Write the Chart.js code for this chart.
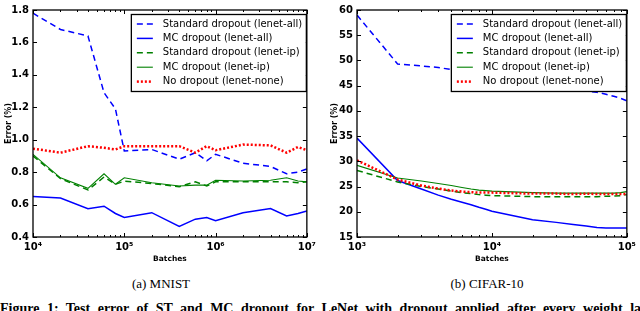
<!DOCTYPE html>
<html><head><meta charset="utf-8">
<script src="https://cdn.jsdelivr.net/npm/chart.js@4.4.0/dist/chart.umd.min.js"></script>
<style>
html,body{margin:0;padding:0;background:#fff;width:640px;height:311px;overflow:hidden;}
canvas{position:absolute;top:0;}
#c1{left:0;}
#c2{left:320px;}
.cap{position:absolute;top:276px;font-family:"Liberation Serif","DejaVu Serif",serif;font-size:13px;line-height:15px;color:#000;white-space:nowrap;transform:translateX(-50%);}
#fig{position:absolute;left:0;top:301px;font-family:"Liberation Serif","DejaVu Serif",serif;font-size:14px;line-height:15px;font-weight:bold;word-spacing:4px;color:#000;white-space:nowrap;}
</style></head><body>
<canvas id="c1" width="320" height="270"></canvas>
<canvas id="c2" width="320" height="270"></canvas>
<div class="cap" style="left:161px">(a) MNIST</div>
<div class="cap" style="left:487px">(b) CIFAR-10</div>
<div id="fig">Figure 1: Test error of ST and MC dropout for LeNet with dropout applied after every weight layer</div>
<script>
// ---------- data ----------
const seriesLabels = ['Standard dropout (lenet-all)','MC dropout (lenet-all)','Standard dropout (lenet-ip)','MC dropout (lenet-ip)','No dropout (lenet-none)'];

const mnistBatches = [1e4,2e4,4e4,6e4,8e4,1e5,2e5,4e5,6e5,8e5,1e6,2e6,4e6,6e6,8e6,1e7];
const mnistStdAll  = [1.78,1.68,1.64,1.29,1.19,0.93,0.94,0.88,0.92,0.87,0.91,0.855,0.835,0.79,0.80,0.82];
const mnistMcAll   = [0.65,0.64,0.575,0.59,0.545,0.52,0.55,0.465,0.51,0.52,0.50,0.55,0.575,0.53,0.545,0.56];
const mnistStdIp   = [0.90,0.76,0.69,0.77,0.725,0.745,0.73,0.71,0.74,0.715,0.74,0.74,0.74,0.74,0.735,0.74];
const mnistMcIp    = [0.91,0.765,0.70,0.79,0.725,0.765,0.735,0.715,0.72,0.72,0.75,0.745,0.75,0.765,0.745,0.74];
const mnistNone    = [0.945,0.92,0.96,0.95,0.94,0.96,0.96,0.96,0.92,0.96,0.935,0.97,0.965,0.92,0.955,0.935];
const mnistYTicks  = [0.4,0.6,0.8,1.0,1.2,1.4,1.6,1.8];

const cifarBatches = [1e3,2e3,3e3,4e3,5e3,6e3,7e3,8e3,9e3,1e4,2e4,3e4,4e4,5e4,6e4,7e4,8e4,9e4,1e5];
const cifarStdAll  = [59.0,49.3,48.9,48.6,48.2,47.8,47.5,47.2,46.9,46.6,45.4,44.7,44.2,43.9,43.7,43.3,42.9,42.5,42.0];
const cifarMcAll   = [34.6,26.2,24.5,23.3,22.5,21.9,21.4,20.9,20.5,20.1,18.4,17.9,17.5,17.2,16.9,16.8,16.8,16.8,16.8];
const cifarStdIp   = [28.2,25.9,25.0,24.5,24.1,23.8,23.6,23.4,23.3,23.2,23.0,23.0,23.0,23.0,23.0,23.1,23.1,23.2,23.4];
const cifarMcIp    = [29.2,26.7,26.1,25.6,25.2,24.8,24.5,24.3,24.2,24.1,23.8,23.7,23.7,23.7,23.7,23.7,23.7,23.8,24.0];
const cifarNone    = [30.2,26.4,25.2,24.6,24.2,24.0,23.9,23.8,23.8,23.8,23.6,23.6,23.5,23.6,23.5,23.5,23.5,23.5,23.5];
const cifarYTicks  = [15,20,25,30,35,40,45,50,55,60];

const xTickLabels = {3:'10³',4:'10⁴',5:'10⁵',6:'10⁶',7:'10⁷'};
const xTitle = 'Batches';
const yTitle = 'Error (%)';

// ---------- styles ----------
const styles = [
  {color:'#0000ff', dash:[6,4], width:1.5},
  {color:'#0000ff', dash:[], width:1.5},
  {color:'#008000', dash:[6,4], width:1.5},
  {color:'#008000', dash:[], width:1.1},
  {color:'#ff0000', dash:[2,2], width:2.5}
];

function line(ctx,x1,y1,x2,y2){ctx.beginPath();ctx.moveTo(x1,y1);ctx.lineTo(x2,y2);ctx.stroke();}

const framePlugin = {
  id:'frame',
  afterDatasetsDraw(chart){
    const ctx = chart.ctx, a = chart.chartArea, xs = chart.scales.x, ys = chart.scales.y;
    ctx.save();
    ctx.strokeStyle = '#000'; ctx.lineWidth = 1; ctx.setLineDash([]);
    const lo = Math.round(Math.log10(xs.min)), hi = Math.round(Math.log10(xs.max));
    for (let e = lo; e <= hi; e++) {
      for (let k = 1; k <= 9; k++) {
        const v = k * Math.pow(10, e);
        if (v > xs.max * 1.0001) break;
        const px = Math.round(xs.getPixelForValue(v)) + 0.5;
        const L = k === 1 ? 4 : 2;
        line(ctx, px, a.bottom, px, a.bottom - L);
        line(ctx, px, a.top, px, a.top + L);
      }
    }
    ys.ticks.forEach(t => {
      const py = Math.round(ys.getPixelForValue(t.value)) + 0.5;
      line(ctx, a.left, py, a.left + 4, py);
      line(ctx, a.right, py, a.right - 4, py);
    });
    ctx.lineWidth = 1.3;
    ctx.strokeRect(a.left, a.top, a.right - a.left, a.bottom - a.top);
    // legend
    const bw = 175, bh = 77;
    const bx = a.right - 1 - bw, by = a.top + 4;
    ctx.fillStyle = '#fff';
    ctx.fillRect(bx, by, bw, bh);
    ctx.lineWidth = 1.3;
    ctx.strokeRect(bx + 0.5, by + 0.5, bw, bh);
    ctx.font = '10px "DejaVu Sans"';
    ctx.textBaseline = 'middle';
    chart.data.datasets.forEach((ds, i) => {
      const yy = by + 10 + i * 14.4;
      ctx.strokeStyle = ds.borderColor;
      ctx.lineWidth = ds.borderWidth;
      ctx.setLineDash(ds.borderDash);
      line(ctx, bx + 6, yy, bx + 22, yy);
      ctx.setLineDash([]);
      ctx.fillStyle = '#000';
      ctx.fillText(ds.label, bx + 32, yy);
    });
    ctx.restore();
  }
};

function makeChart(id, xs, seriesValues, xmin, xmax, ymin, ymax, ystep, yTicks, yw, padTop, padRight, yTitlePad) {
  const datasets = seriesValues.map((vals, i) => ({
    label: seriesLabels[i],
    data: xs.map((xv, j) => ({x: xv, y: vals[j]})),
    borderColor: styles[i].color,
    borderDash: styles[i].dash,
    borderWidth: styles[i].width,
    pointRadius: 0,
    tension: 0,
    fill: false,
    order: seriesValues.length - 1 - i
  }));
  return new Chart(document.getElementById(id), {
    type: 'line',
    data: {datasets},
    options: {
      responsive: false, animation: false, devicePixelRatio: 1,
      layout: {padding: {top: padTop, right: padRight, left: 0, bottom: 0}},
      plugins: {legend: {display: false}, tooltip: {enabled: false}},
      scales: {
        x: {
          type: 'logarithmic', min: xmin, max: xmax,
          grid: {display: false, drawTicks: false}, border: {display: false},
          ticks: {
            autoSkip: false, maxRotation: 0, minRotation: 0, padding: 4, color: '#000',
            font: {family: 'DejaVu Sans', size: 10, weight: 'bold'},
            callback: (v) => {
              const e = Math.log10(v);
              return Math.abs(e - Math.round(e)) < 1e-6 ? (xTickLabels[Math.round(e)] || '') : '';
            }
          },
          title: {display: true, text: xTitle, color: '#000', font: {family: 'DejaVu Sans', size: 7.5, weight: 'bold'}, padding: {top: 0, bottom: 6}},
          afterFit: (s) => { s.height = 33; }
        },
        y: {
          type: 'linear', min: ymin, max: ymax,
          grid: {display: false, drawTicks: false}, border: {display: false},
          afterBuildTicks: (s) => { s.ticks = yTicks.map(v => ({value: v})); },
          ticks: {
            padding: 4, color: '#000', stepSize: ystep,
            font: {family: 'DejaVu Sans', size: 10, weight: 'bold'},
            callback: (v) => (ystep < 1 ? v.toFixed(1) : String(v))
          },
          title: {display: true, text: yTitle, color: '#000', font: {family: 'DejaVu Sans', size: 8, weight: 'bold'}, padding: {top: yTitlePad, bottom: 0}},
          afterFit: (s) => { s.width = yw; }
        }
      }
    },
    plugins: [framePlugin]
  });
}

makeChart('c1', mnistBatches, [mnistStdAll, mnistMcAll, mnistStdIp, mnistMcIp, mnistNone],
  1e4, 1e7, 0.4, 1.8, 0.2, mnistYTicks, 33, 6, 13, 4);
makeChart('c2', cifarBatches, [cifarStdAll, cifarMcAll, cifarStdIp, cifarMcIp, cifarNone],
  1e3, 1e5, 15, 60, 5, cifarYTicks, 37, 5, 7, 10);
</script>
</body></html>
